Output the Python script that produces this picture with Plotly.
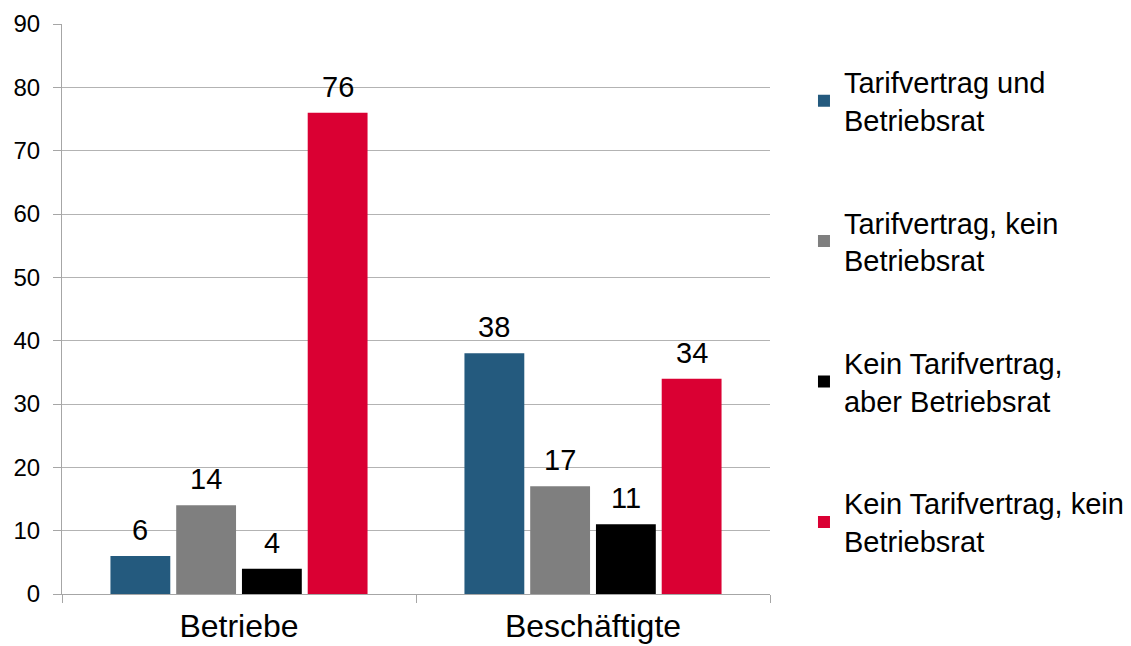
import plotly.graph_objects as go

categories = ["Betriebe", "Beschäftigte"]
series_names = [
    "Tarifvertrag und<br>Betriebsrat",
    "Tarifvertrag, kein<br>Betriebsrat",
    "Kein Tarifvertrag,<br>aber Betriebsrat",
    "Kein Tarifvertrag, kein<br>Betriebsrat",
]
tv_br = [6, 38]
tv_kein_br = [14, 17]
kein_tv_br = [4, 11]
kein_tv_kein_br = [76, 34]
colors = ["#245A7E", "#7F7F7F", "#000000", "#DA0033"]
y_ticks = [0, 10, 20, 30, 40, 50, 60, 70, 80, 90]

FONT = "Liberation Sans, Arial, sans-serif"

W, H = 1131, 646
ML, MT, MR, MB = 54, 16, 369, 60
BARGAP = 0.257
plot_w = W - ML - MR
slot_px = plot_w / len(categories) * (1 - BARGAP) / 4

fig = go.Figure()
all_series = [tv_br, tv_kein_br, kein_tv_br, kein_tv_kein_br]
for i, (name, vals) in enumerate(zip(series_names, all_series)):
    fig.add_trace(go.Bar(
        x=categories, y=vals, name=name,
        marker=dict(color=colors[i], line=dict(width=0)),
        legendgroup=f"g{i}",
    ))
    for cat, v in zip(categories, vals):
        fig.add_annotation(
            x=cat, y=v, xref="x", yref="y", text=str(v), showarrow=False,
            xshift=(i - 1.5) * slot_px, yshift=8, yanchor="bottom",
            font=dict(size=29, family=FONT, color="#000000"),
        )

fig.update_layout(
    width=W, height=H,
    barmode="group", bargap=BARGAP, bargroupgap=0.09,
    plot_bgcolor="white", paper_bgcolor="white",
    font=dict(family=FONT, color="#000000"),
    margin=dict(l=ML, r=MR, t=MT, b=MB, autoexpand=False),
    showlegend=True,
    legend=dict(
        x=1.048, xanchor="left", y=0.943, yanchor="top",
        font=dict(size=29, family=FONT, color="#000000"),
        tracegroupgap=62, itemwidth=30,
        bgcolor="rgba(0,0,0,0)",
    ),
    xaxis=dict(
        type="category", tickson="boundaries", ticks="outside", ticklen=8,
        tickcolor="#A6A6A6", showline=True, linecolor="#A6A6A6", linewidth=1,
        tickfont=dict(size=32, family=FONT, color="#000000"),
        ticklabelstandoff=4,
        showgrid=False,
    ),
    yaxis=dict(
        range=[0, 90], tickvals=y_ticks, ticks="outside", ticklen=8,
        tickcolor="#A6A6A6", showline=True, linecolor="#A6A6A6", linewidth=1,
        showgrid=True, gridcolor="#B3B3B3", gridwidth=1,
        tickfont=dict(size=24, family=FONT, color="#000000"),
        ticklabelstandoff=8,
        zeroline=False,
    ),
)

fig.write_html("out.html")
